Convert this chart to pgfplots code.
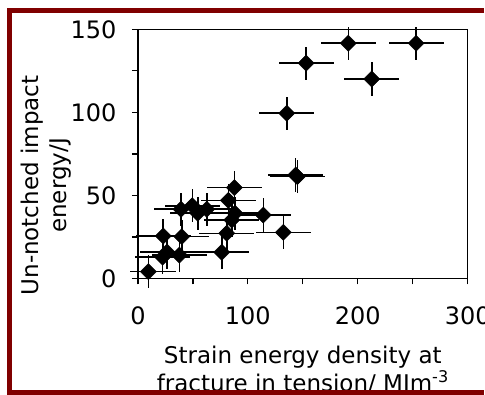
\documentclass[border=0pt]{standalone}
\usepackage{fontspec}
\setmainfont{DejaVu Sans}
\usepackage{pgfplots}
\pgfplotsset{compat=1.18}
\definecolor{framered}{RGB}{128,0,0}
\begin{document}
\begin{tikzpicture}[x=1pt,y=1pt]
\useasboundingbox (0,0) rectangle (485,395);
\clip (0,0) rectangle (485,395);
\fill[white] (0,0) rectangle (485,395);
\begin{axis}[
  at={(137.9pt,116.5pt)}, anchor=south west,
  scale only axis, width=329.8pt, height=249.2pt,
  xmin=0, xmax=300, ymin=0, ymax=150,
  xtick={0,100,200,300}, minor xtick={50,150,250},
  ytick={0,50,100,150}, minor ytick={25,75,125},
  tick align=outside, tick pos=left,
  major tick length=6pt, minor tick length=6pt,
  every tick/.style={black, line width=1.3pt},
  axis line style={line width=1.5pt},
  clip=false,
  /pgf/number format/assume math mode=true,
  tick label style={font=\fontsize{24}{28}\selectfont},
  yticklabel style={xshift=-12pt},
  xticklabel style={yshift=-19pt},
]
\addplot[only marks, mark=square*, mark size=5.7pt,
  mark options={rotate=45, fill=black, draw=black},
  error bars/.cd, x dir=both, x explicit, y dir=both, y explicit,
  error mark=none, error bar style={line width=1.6pt, black}]
coordinates {
  (191.4,141.6) +- (25,10)
  (253.1,141.6) +- (25,10)
  (153.0,129.6) +- (25,10)
  (212.7,120.1) +- (25,10)
  (135.4,99.5) +- (25,10)
  (143.5,62.3) +- (25,10)
  (145.0,61.3) +- (25,10)
  (87.7,54.7) +- (25,10)
  (82.3,47.0) +- (25,10)
  (39.2,41.7) +- (25,10)
  (49.5,43.8) +- (25,10)
  (54.4,39.3) +- (25,10)
  (62.6,41.7) +- (25,10)
  (88.4,39.3) +- (25,10)
  (85.4,35.2) +- (25,10)
  (114.1,38.2) +- (25,10)
  (132.3,27.8) +- (25,10)
  (80.8,27.2) +- (25,10)
  (23.1,25.6) +- (25,10)
  (39.9,25.2) +- (25,10)
  (76.3,15.8) +- (25,10)
  (26.5,16.0) +- (25,10)
  (22.5,12.8) +- (25,10)
  (37.7,14.1) +- (25,10)
  (9.5,4.1) += (25,10) -= (17,10)
};
\end{axis}
\begin{scope}[font=\fontsize{23}{28}\selectfont]
\node[rotate=90, anchor=base] at (38.8,209.5) {Un-notched impact};
\node[rotate=90, anchor=base] at (66.5,209.5) {energy/J};
\node[anchor=base] at (302.8,31) {Strain energy density at};
\node[anchor=base] at (302.8,3) {fracture in tension/ MJm\textsuperscript{-3}};
\end{scope}
\draw[framered, line width=5pt] (484,384.2) -- (9.5,384.2) -- (9.5,2.5) -- (484,2.5);
\end{tikzpicture}
\end{document}
